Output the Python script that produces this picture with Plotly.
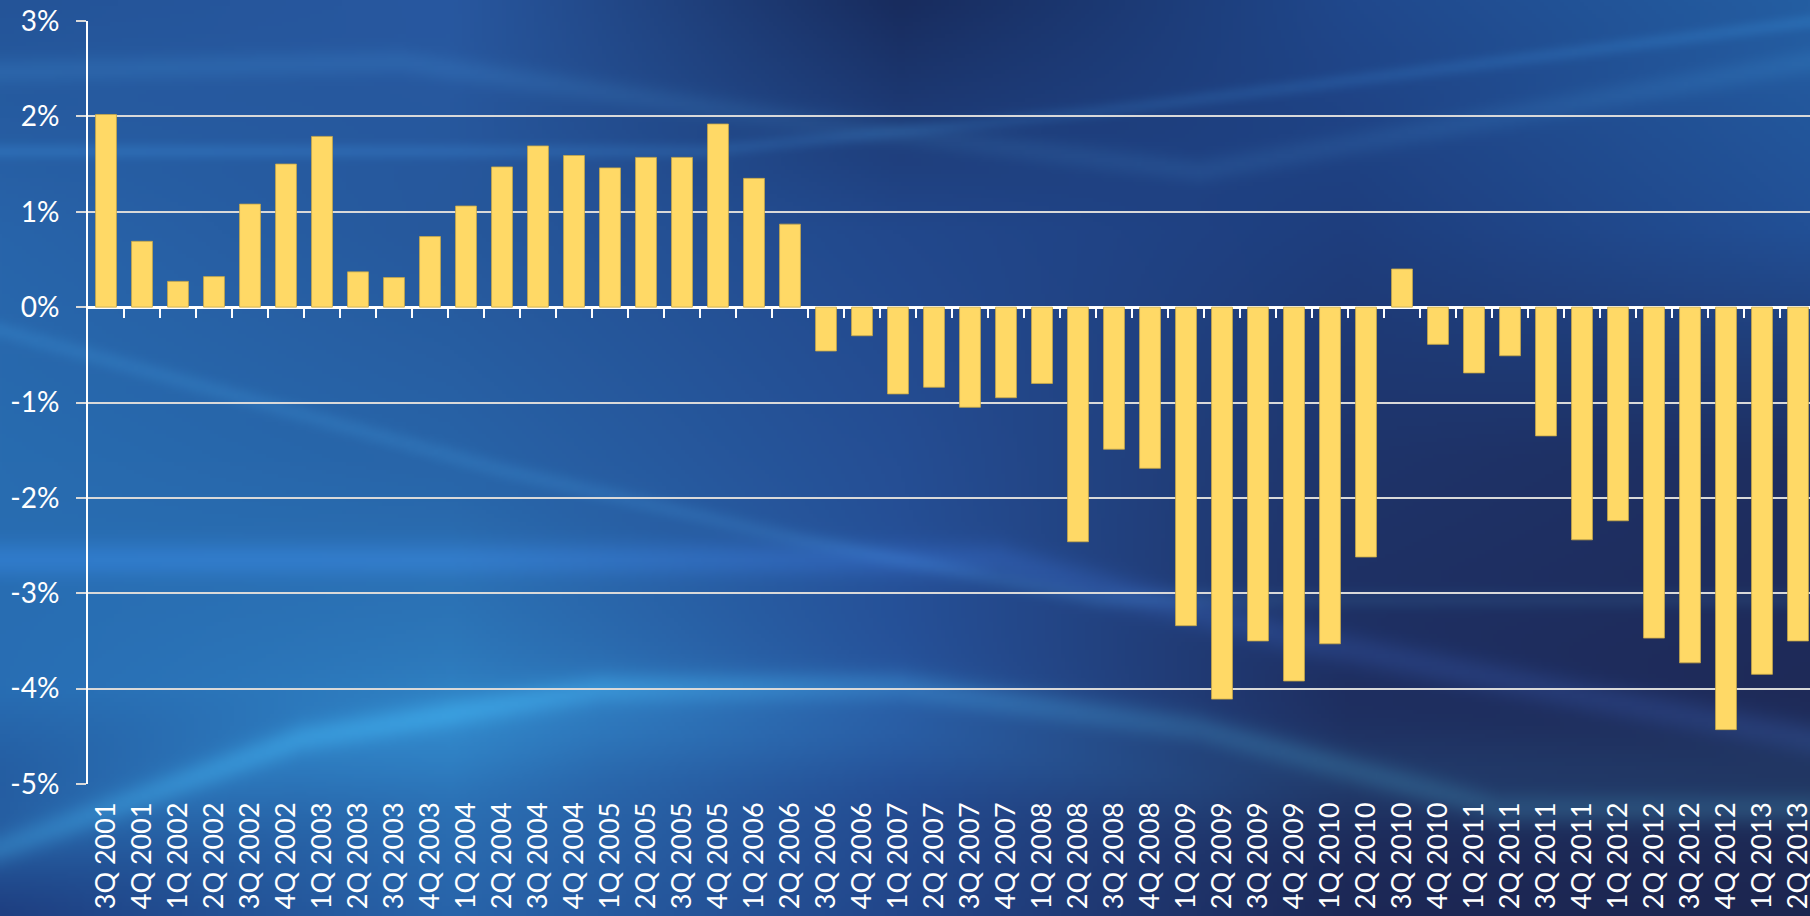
import base64, struct, zlib
import numpy as np
import plotly.graph_objects as go

quarters = ["3Q 2001", "4Q 2001",
            "1Q 2002", "2Q 2002", "3Q 2002", "4Q 2002",
            "1Q 2003", "2Q 2003", "3Q 2003", "4Q 2003",
            "1Q 2004", "2Q 2004", "3Q 2004", "4Q 2004",
            "1Q 2005", "2Q 2005", "3Q 2005", "4Q 2005",
            "1Q 2006", "2Q 2006", "3Q 2006", "4Q 2006",
            "1Q 2007", "2Q 2007", "3Q 2007", "4Q 2007",
            "1Q 2008", "2Q 2008", "3Q 2008", "4Q 2008",
            "1Q 2009", "2Q 2009", "3Q 2009", "4Q 2009",
            "1Q 2010", "2Q 2010", "3Q 2010", "4Q 2010",
            "1Q 2011", "2Q 2011", "3Q 2011", "4Q 2011",
            "1Q 2012", "2Q 2012", "3Q 2012", "4Q 2012",
            "1Q 2013", "2Q 2013"]

values = [2.02, 0.69,
          0.27, 0.32, 1.08, 1.50,
          1.79, 0.37, 0.31, 0.74,
          1.06, 1.47, 1.69, 1.59,
          1.46, 1.57, 1.57, 1.92,
          1.35, 0.87, -0.46, -0.30,
          -0.91, -0.84, -1.05, -0.95,
          -0.80, -2.46, -1.49, -1.69,
          -3.34, -4.11, -3.50, -3.92,
          -3.53, -2.62, 0.40, -0.39,
          -0.69, -0.51, -1.35, -2.44,
          -2.24, -3.47, -3.73, -4.43,
          -3.85, -3.50]

y_ticks = [-5, -4, -3, -2, -1, 0, 1, 2, 3]
y_tick_text = ["-5%", "-4%", "-3%", "-2%", "-1%", "0%", "1%", "2%", "3%"]

W, H = 1810, 916
ML, MR, MT, MB = 88, 0, 21, 132
BAR_COLOR = "#FFD966"


# ---------- decorative background (blue swoosh) as an inline PNG ----------
def make_background(w, h):
    xs = np.linspace(0, W, w)
    ys = np.linspace(0, H, h)
    cx = [0, 450, 900, 1350, 1810]
    cy = [0, 230, 460, 690, 916]
    grid = np.array([
        [(36, 84, 152), (40, 88, 160), (24, 44, 94), (32, 72, 140), (36, 94, 162)],
        [(40, 100, 170), (38, 88, 156), (34, 72, 140), (30, 62, 126), (34, 80, 150)],
        [(40, 108, 176), (40, 100, 168), (37, 78, 148), (30, 52, 106), (30, 46, 96)],
        [(40, 110, 180), (46, 124, 190), (38, 82, 154), (30, 46, 96), (30, 42, 88)],
        [(30, 62, 128), (40, 100, 170), (34, 70, 138), (28, 40, 86), (28, 38, 80)],
    ], dtype=float)
    rows = np.zeros((len(cy), w, 3))
    for i in range(len(cy)):
        for c in range(3):
            rows[i, :, c] = np.interp(xs, cx, grid[i, :, c])
    img = np.zeros((h, w, 3))
    for c in range(3):
        for j in range(w):
            img[:, j, c] = np.interp(ys, cy, rows[:, j, c])
    X, Y = np.meshgrid(xs, ys)

    def band(px, py, width, rgb):
        curve = np.interp(X, px, py)
        g = np.exp(-((Y - curve) / width) ** 2)
        for c in range(3):
            img[:, :, c] += g * rgb[c]

    band([0, 300, 600, 900, 1200, 1500], [850, 740, 690, 688, 730, 810], 16, (10, 26, 24))
    band([0, 300, 600, 900, 1200], [840, 760, 720, 730, 780], 50, (4, 14, 14))
    band([0, 250, 500, 800, 1100], [330, 400, 470, 540, 600], 10, (6, 12, 12))
    band([0, 400, 800, 1200, 1810], [70, 60, 120, 170, 60], 14, (6, 12, 12))
    band([700, 1100, 1500, 1810], [150, 110, 60, 20], 8, (6, 14, 16))
    band([1000, 1300, 1600, 1810], [560, 640, 700, 740], 18, (8, 14, 24))
    return np.clip(img, 0, 255).astype(np.uint8)


def png_data_uri(arr):
    h, w, _ = arr.shape
    raw = b"".join(b"\x00" + arr[r].tobytes() for r in range(h))

    def chunk(t, d):
        return struct.pack(">I", len(d)) + t + d + struct.pack(">I", zlib.crc32(t + d) & 0xFFFFFFFF)

    png = (b"\x89PNG\r\n\x1a\n"
           + chunk(b"IHDR", struct.pack(">IIBBBBB", w, h, 8, 2, 0, 0, 0))
           + chunk(b"IDAT", zlib.compress(raw, 9))
           + chunk(b"IEND", b""))
    return "data:image/png;base64," + base64.b64encode(png).decode()


bg_uri = png_data_uri(make_background(453, 229))

pw = W - ML - MR
ph = H - MT - MB
n = len(quarters)
x_hi = -0.5 + pw / 36.0

fig = go.Figure()
fig.add_trace(go.Bar(
    x=quarters, y=values,
    marker=dict(color=BAR_COLOR, line=dict(color="#C8A848", width=0.8)),
    width=0.58, hoverinfo="x+y",
))
# invisible trace to activate the tick-mark axis on the zero line
fig.add_trace(go.Scatter(x=[0], y=[None], xaxis="x2", yaxis="y",
                         mode="markers", showlegend=False, hoverinfo="skip"))

font_y = dict(family="Lato, 'Open Sans', sans-serif", size=28, color="white")
font_x = dict(family="Lato, 'Open Sans', sans-serif", size=27, color="white")

fig.update_layout(
    width=W, height=H,
    margin=dict(l=ML, r=MR, t=MT, b=MB, autoexpand=False),
    paper_bgcolor="#24427f",
    plot_bgcolor="rgba(0,0,0,0)",
    showlegend=False,
    bargap=0.42,
    font=font_y,
    images=[dict(source=bg_uri, xref="paper", yref="paper",
                 x=-ML / pw, y=1 + MT / ph, sizex=W / pw, sizey=H / ph,
                 xanchor="left", yanchor="top", sizing="stretch", layer="below")],
    xaxis=dict(
        type="category", range=[-0.5, x_hi], automargin=False,
        tickmode="array", tickvals=quarters, ticktext=quarters,
        tickangle=-90, tickfont=font_x, ticks="",
        showgrid=False, showline=False, zeroline=False,
        ticklabelstandoff=12,
    ),
    xaxis2=dict(
        overlaying="x", anchor="free", position=5 / 8, automargin=False,
        range=[-0.5, x_hi], tickmode="array",
        tickvals=[i + 0.5 for i in range(n)],
        ticks="outside", ticklen=10, tickwidth=2, tickcolor="white",
        showticklabels=False, showgrid=False, showline=False, zeroline=False,
    ),
    yaxis=dict(
        range=[-5, 3], tickmode="array", tickvals=y_ticks, ticktext=y_tick_text,
        tickfont=font_y, automargin=False,
        showgrid=True, gridcolor="#D9D9D9", gridwidth=2,
        zeroline=True, zerolinecolor="white", zerolinewidth=3,
        showline=True, linecolor="white", linewidth=2,
        ticks="outside", ticklen=10, tickwidth=2, tickcolor="#D9D9D9",
        ticklabelstandoff=11,
    ),
)

fig.write_html(
    "out.html",
    config={"displayModeBar": False},
    post_script="document.body.style.margin='0px';"
                "document.body.style.background='#24427f';"
                "document.body.style.overflow='hidden';",
)
